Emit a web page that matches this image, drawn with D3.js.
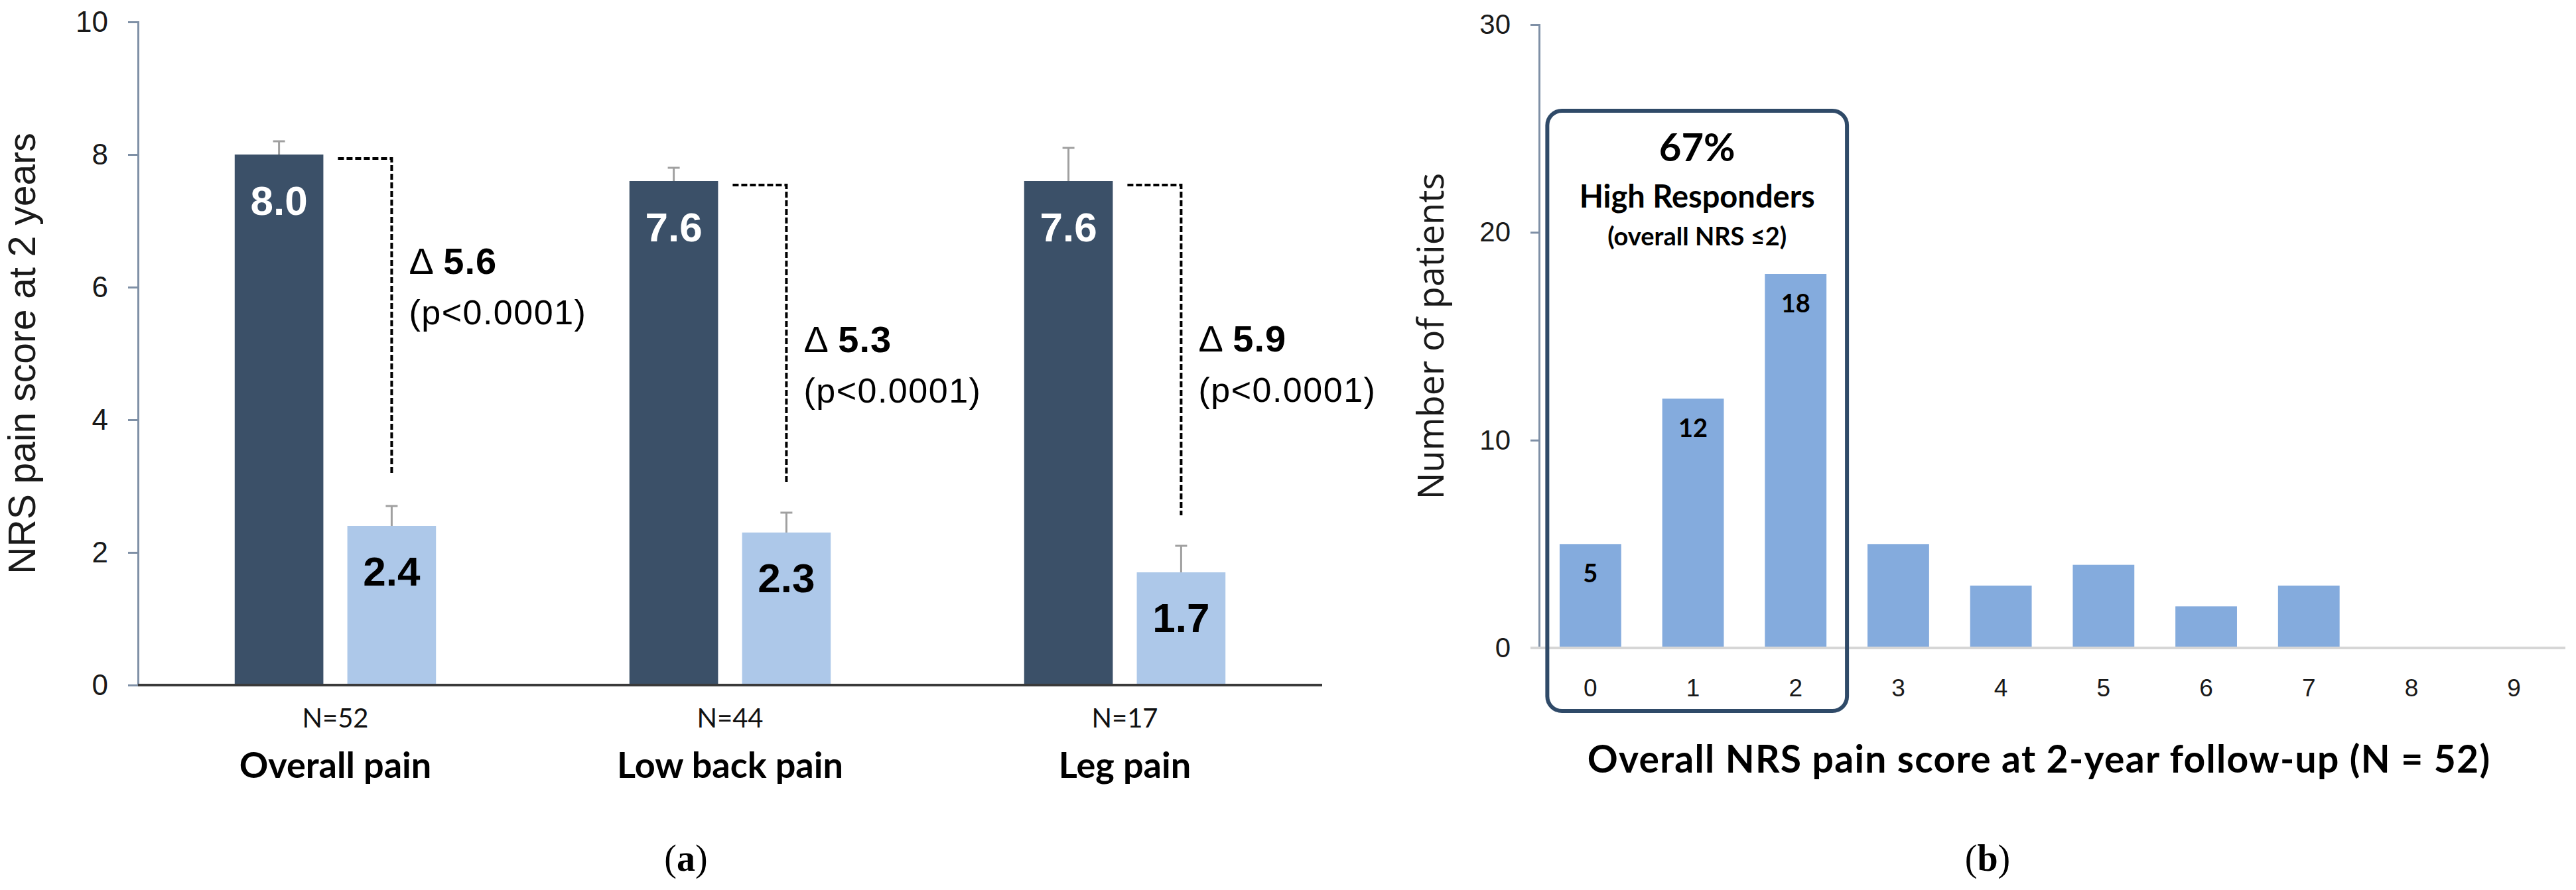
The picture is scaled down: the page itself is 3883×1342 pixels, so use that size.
<!DOCTYPE html>
<html>
<head>
<meta charset="utf-8">
<script src="https://cdn.jsdelivr.net/npm/d3@7"></script>
<style>
  html, body { margin: 0; padding: 0; background: #fff; }
  svg { display: block; }
</style>
</head>
<body>
<svg id="chart" width="3883" height="1342"></svg>
<script>
// Panel (a): mean NRS pain scores at baseline and at 2 years
const painTypes = ["Overall pain", "Low back pain", "Leg pain"];
const sampleSizes = ["N=52", "N=44", "N=17"];
const baselineScores = [8.0, 7.6, 7.6];
const followUpScores = [2.4, 2.3, 1.7];
const baselineUpper = [8.2, 7.8, 8.1];
const followUpUpper = [2.7, 2.6, 2.1];
const deltaValues = ["5.6", "5.3", "5.9"];
const pValueLabels = ["(p<0.0001)", "(p<0.0001)", "(p<0.0001)"];
const deltaLabelLevel = [6.2, 5.02, 5.03];
const scoreTicks = [0, 2, 4, 6, 8, 10];

// Panel (b): overall NRS score distribution at 2 years
const nrsScores = [0, 1, 2, 3, 4, 5, 6, 7, 8, 9];
const patientCounts = [5, 12, 18, 5, 3, 4, 2, 3, 0, 0];
const countTicks = [0, 10, 20, 30];
const highResponderScores = [0, 1, 2];
const highResponderLines = ["67%", "High Responders", "(overall NRS \u22642)"];

const arial = "'Liberation Sans', Arial, sans-serif";
const lato = "Lato, 'Open Sans', sans-serif";
const axisColor = '#7f90a6';
const darkBlue = '#3b5068';
const paleBlue = '#adc8e9';
const histBlue = '#84abdd';

const svg = d3.select('#chart');

function styleAxis(g, fontSize) {
    g.select('.domain').attr('stroke', axisColor).attr('stroke-width', 3);
    g.selectAll('.tick line').attr('stroke', axisColor).attr('stroke-width', 3);
    g.selectAll('.tick text')
        .attr('font-family', arial)
        .attr('font-size', fontSize)
        .attr('fill', '#1a1a1a');
}

// ---------- Panel (a) ----------
const yA = d3.scaleLinear().domain([0, 10]).range([1033, 33]);
const xA = d3.scaleBand().domain(painTypes).range([208, 1993])
    .paddingInner(0.49).paddingOuter(0.245);
const xSub = d3.scaleBand().domain(['baseline', 'followUp'])
    .range([0, xA.bandwidth()]).paddingInner(0.213);

const rows = painTypes.map((t, i) => ({
    type: t, n: sampleSizes[i],
    base: baselineScores[i], follow: followUpScores[i],
    baseUp: baselineUpper[i], followUp: followUpUpper[i],
    delta: deltaValues[i], p: pValueLabels[i], level: deltaLabelLevel[i]
}));

const gA = svg.append('g');

gA.append('g')
    .attr('transform', `translate(${xA.range()[0]},0)`)
    .call(d3.axisLeft(yA).tickValues(scoreTicks).tickSize(15).tickPadding(30))
    .call(g => styleAxis(g, 44));

gA.append('text')
    .attr('transform', `translate(53, ${(yA(0) + yA(10)) / 2}) rotate(-90)`)
    .attr('text-anchor', 'middle')
    .attr('font-family', arial)
    .attr('font-size', 57)
    .attr('fill', '#1a1a1a')
    .text('NRS pain score at 2 years');

const group = gA.selectAll('.grp')
    .data(rows)
    .join('g')
    .attr('class', 'grp')
    .attr('transform', d => `translate(${xA(d.type)},0)`);

const bw = xSub.bandwidth();

// baseline bars
group.append('rect')
    .attr('x', xSub('baseline'))
    .attr('y', d => yA(d.base))
    .attr('width', bw)
    .attr('height', d => yA(0) - yA(d.base))
    .attr('fill', darkBlue);

// 2-year bars
group.append('rect')
    .attr('x', xSub('followUp'))
    .attr('y', d => yA(d.follow))
    .attr('width', bw)
    .attr('height', d => yA(0) - yA(d.follow))
    .attr('fill', paleBlue);

// error bars
[['baseline', 'base', 'baseUp'], ['followUp', 'follow', 'followUp']].forEach(([key, v, up]) => {
    const cx = xSub(key) + bw / 2;
    group.append('line')
        .attr('x1', cx).attr('x2', cx)
        .attr('y1', d => yA(d[v])).attr('y2', d => yA(d[up]))
        .attr('stroke', '#a0a0a0').attr('stroke-width', 3);
    group.append('line')
        .attr('x1', cx - 9).attr('x2', cx + 9)
        .attr('y1', d => yA(d[up])).attr('y2', d => yA(d[up]))
        .attr('stroke', '#a0a0a0').attr('stroke-width', 3);
});

// value labels
group.append('text')
    .attr('x', xSub('baseline') + bw / 2)
    .attr('y', d => yA(d.base) + 91)
    .attr('text-anchor', 'middle')
    .attr('font-family', arial).attr('font-weight', 'bold')
    .attr('font-size', 62).attr('fill', '#fff')
    .text(d => d.base.toFixed(1));

group.append('text')
    .attr('x', xSub('followUp') + bw / 2)
    .attr('y', d => yA(d.follow) + 90)
    .attr('text-anchor', 'middle')
    .attr('font-family', arial).attr('font-weight', 'bold')
    .attr('font-size', 62).attr('fill', '#000')
    .text(d => d.follow.toFixed(1));

// dashed connectors
const lightCx = xSub('followUp') + bw / 2;
group.append('path')
    .attr('d', d => `M${xSub('baseline') + bw + 22},${yA(d.base) + 6}H${lightCx}V${yA(d.followUp) - 46}`)
    .attr('fill', 'none')
    .attr('stroke', '#000')
    .attr('stroke-width', 4)
    .attr('stroke-dasharray', '9,4');

// delta annotations
const dText = group.append('text')
    .attr('x', lightCx + 26)
    .attr('y', d => yA(d.level))
    .attr('font-family', arial).attr('font-size', 56)
    .attr('letter-spacing', 1).attr('fill', '#000');
dText.append('tspan').text('\u0394 ');
dText.append('tspan').attr('font-weight', 'bold').text(d => d.delta);

group.append('text')
    .attr('x', lightCx + 26)
    .attr('y', d => yA(d.level) + 76)
    .attr('font-family', arial).attr('font-size', 52)
    .attr('letter-spacing', 1.5).attr('fill', '#000')
    .text(d => d.p);

// x baseline
gA.append('line')
    .attr('x1', xA.range()[0]).attr('x2', xA.range()[1])
    .attr('y1', yA(0)).attr('y2', yA(0))
    .attr('stroke', '#3a3a3a').attr('stroke-width', 4);

// category labels
group.append('text')
    .attr('x', xA.bandwidth() / 2)
    .attr('y', yA(0) + 64)
    .attr('text-anchor', 'middle')
    .attr('font-family', lato).attr('font-size', 40).attr('fill', '#111')
    .text(d => d.n);

group.append('text')
    .attr('x', xA.bandwidth() / 2)
    .attr('y', yA(0) + 140)
    .attr('text-anchor', 'middle')
    .attr('font-family', lato).attr('font-weight', 'bold')
    .attr('font-size', 54).attr('fill', '#000')
    .text(d => d.type);

// ---------- Panel (b) ----------
const yB = d3.scaleLinear().domain([0, 30]).range([977, 37]);
const xB = d3.scaleBand().domain(nrsScores).range([2320, 3867])
    .paddingInner(0.4).paddingOuter(0.2);

const gB = svg.append('g');

gB.append('g')
    .attr('transform', `translate(${xB.range()[0]},0)`)
    .call(d3.axisLeft(yB).tickValues(countTicks).tickSize(13).tickPadding(30))
    .call(g => styleAxis(g, 42));

gB.append('text')
    .attr('transform', `translate(2176, ${(yB(0) + yB(30)) / 2}) rotate(-90)`)
    .attr('text-anchor', 'middle')
    .attr('font-family', "'Open Sans', sans-serif")
    .attr('font-size', 54)
    .attr('fill', '#1a1a1a')
    .text('Number of patients');

const bins = nrsScores.map((s, i) => ({ score: s, count: patientCounts[i] }));

gB.selectAll('.hbar')
    .data(bins)
    .join('rect')
    .attr('class', 'hbar')
    .attr('x', d => xB(d.score))
    .attr('y', d => yB(d.count))
    .attr('width', xB.bandwidth())
    .attr('height', d => yB(0) - yB(d.count))
    .attr('fill', histBlue);

gB.selectAll('.hlabel')
    .data(bins.filter(d => highResponderScores.includes(d.score)))
    .join('text')
    .attr('class', 'hlabel')
    .attr('x', d => xB(d.score) + xB.bandwidth() / 2)
    .attr('y', d => yB(d.count) + 58)
    .attr('text-anchor', 'middle')
    .attr('font-family', lato).attr('font-weight', 'bold')
    .attr('font-size', 38).attr('fill', '#000')
    .text(d => d.count);

// baseline
gB.append('line')
    .attr('x1', xB.range()[0] - 13).attr('x2', xB.range()[1])
    .attr('y1', yB(0)).attr('y2', yB(0))
    .attr('stroke', '#d6d6d6').attr('stroke-width', 4);

// x tick labels
gB.append('g')
    .attr('transform', `translate(0,${yB(0)})`)
    .call(d3.axisBottom(xB).tickSize(0).tickPadding(47))
    .call(g => {
        g.select('.domain').remove();
        g.selectAll('.tick text')
            .attr('font-family', arial)
            .attr('font-size', 37)
            .attr('fill', '#1a1a1a');
    });

// high responder box
const step = xB.step();
const boxLeft = xB(highResponderScores[0]) - 0.12 * step;
const boxRight = xB(highResponderScores[highResponderScores.length - 1]) + xB.bandwidth() + 0.2 * step;
const boxTop = yB(25.85);
gB.append('rect')
    .attr('x', boxLeft)
    .attr('y', boxTop)
    .attr('width', boxRight - boxLeft)
    .attr('height', yB(0) + 95 - boxTop)
    .attr('rx', 22)
    .attr('fill', 'none')
    .attr('stroke', '#2f4a68')
    .attr('stroke-width', 6);

const boxCx = (boxLeft + boxRight) / 2;
const boxSizes = [58, 47, 38];
const boxOffsets = [76, 146, 203];
highResponderLines.forEach((line, i) => {
    gB.append('text')
        .attr('x', boxCx)
        .attr('y', boxTop + boxOffsets[i])
        .attr('text-anchor', 'middle')
        .attr('font-family', lato).attr('font-weight', 'bold')
        .attr('font-size', boxSizes[i]).attr('fill', '#000')
        .text(line);
});

gB.append('text')
    .attr('x', (xB.range()[0] + xB.range()[1]) / 2 - 20)
    .attr('y', 1165)
    .attr('text-anchor', 'middle')
    .attr('font-family', lato).attr('font-weight', 'bold')
    .attr('font-size', 57).attr('letter-spacing', 1.3).attr('fill', '#000')
    .text('Overall NRS pain score at 2-year follow-up (N = 52)');

// panel captions
[['a', 1034], ['b', 2996]].forEach(([letter, cx]) => {
    const t = svg.append('text')
        .attr('x', cx).attr('y', 1313)
        .attr('text-anchor', 'middle')
        .attr('font-family', "'Liberation Serif', 'DejaVu Serif', serif")
        .attr('font-size', 56).attr('fill', '#000');
    t.append('tspan').text('(');
    t.append('tspan').attr('font-weight', 'bold').text(letter);
    t.append('tspan').text(')');
});
</script>
</body>
</html>
